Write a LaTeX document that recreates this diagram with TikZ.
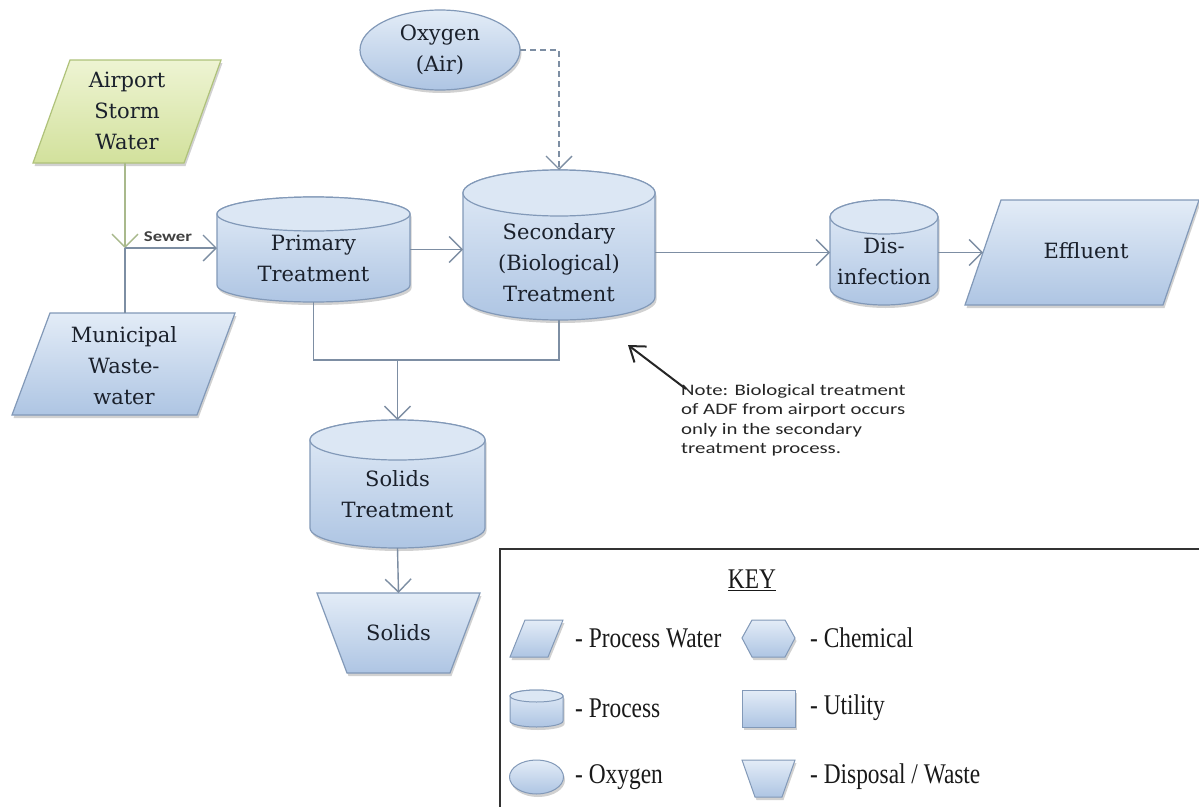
\documentclass[tikz,border=0pt]{standalone}
\usepackage{fontspec}
\setmainfont{DejaVu Serif}
\newfontfamily\keyfont{Liberation Serif}
\newfontfamily\notefont{Carlito}
\usetikzlibrary{arrows.meta,calc}

\definecolor{edge}{HTML}{8299B8}
\definecolor{ftop}{HTML}{E3ECF7}
\definecolor{fbot}{HTML}{AEC5E3}
\definecolor{capc}{HTML}{DCE7F4}
\definecolor{gtop}{HTML}{EEF4D3}
\definecolor{gbot}{HTML}{D2E19C}
\definecolor{gedge}{HTML}{AFC27A}
\definecolor{conn}{HTML}{7D8EA3}
\definecolor{gconn}{HTML}{A9B98C}
\definecolor{txt}{HTML}{1A202B}

\newcommand{\cylshape}[3]{%
  \path[shapefill] ($(#1.north west)+(0pt,-#3)$) -- ($(#1.south west)+(0pt,#3)$)
    arc[start angle=180,end angle=360,x radius=#2,y radius=#3]
    -- ($(#1.north east)+(0pt,-#3)$)
    arc[start angle=0,end angle=180,x radius=#2,y radius=#3] -- cycle;
  \path[capfill] ($(#1.north)+(0pt,-#3)$) ellipse[x radius=#2,y radius=#3];}
\newcommand{\parashape}[3]{%
  \path[#3] (#1.south west) -- ($(#1.north west)+(#2,0pt)$) -- (#1.north east)
    -- ($(#1.south east)+(-#2,0pt)$) -- cycle;}

\begin{document}
\begin{tikzpicture}[x=1pt,y=-1pt,
  holder/.style={rectangle,inner sep=0pt,outer sep=0pt},
  lbl/.style={font=\fontsize{21}{31}\selectfont,text=txt,align=center,inner sep=0pt},
  shadowed/.style={preaction={fill=black,opacity=0.18,transform canvas={shift={(1.5pt,-3pt)}}}},
  shapefill/.style={shadowed,draw=edge,line width=1.2pt,top color=ftop,bottom color=fbot},
  capfill/.style={draw=edge,line width=1.2pt,fill=capc},
  greenfill/.style={shadowed,draw=gedge,line width=1.2pt,top color=gtop,bottom color=gbot},
  line/.style={draw=conn,line width=1.4pt},
  barb/.style={-{Straight Barb[length=13pt,width=26pt]}},
  flow/.style={line,barb},
  gflow/.style={draw=gconn,line width=1.4pt,barb},
  dashflow/.style={draw=conn,line width=1.4pt,dash pattern=on 6pt off 4pt,barb},
  notearrow/.style={draw=black!85,line width=2pt,-{Straight Barb[length=14pt,width=20pt]}},
  notetxt/.style={font=\notefont\fontsize{16}{19.5}\selectfont,text=black!85,align=left,inner sep=0pt},
  sewerlbl/.style={font=\notefont\bfseries\fontsize{15}{16}\selectfont,text=black!75,inner sep=0pt},
  keytxt/.style={font=\keyfont\fontsize{28.5}{30}\selectfont,text=black!90,inner sep=0pt},
  keyframe/.style={draw=black!80,line width=2.2pt},
  iconfill/.style={draw=edge,line width=1pt,top color=ftop,bottom color=fbot,shadowed}
]
\fill[white] (0,0) rectangle (1199,806);
\useasboundingbox (0,0) rectangle (1199,806);

% ---------- shapes ----------
% Oxygen
\node[holder,minimum width=160pt,minimum height=80pt] (oxy) at (440,50) {};
\path[shapefill] (oxy.center) ellipse[x radius=80pt,y radius=40pt];
\node[lbl] (oxyt) at (oxy.center) {Oxygen\\(Air)};

% Airport storm water
\node[holder,minimum width=188pt,minimum height=103pt] (air) at (127,111.5) {};
\parashape{air}{37pt}{greenfill}
\node[lbl] (airt) at (127,111) {Airport\\Storm\\Water};

% Municipal wastewater
\node[holder,minimum width=223pt,minimum height=102pt] (mun) at (123.5,364) {};
\parashape{mun}{38pt}{shapefill}
\node[lbl] (munt) at (124,366) {Municipal\\Waste-\\water};

% Primary
\node[holder,minimum width=193pt,minimum height=105pt] (prim) at (313.5,249.5) {};
\cylshape{prim}{96.5pt}{17pt}
\node[lbl] (primt) at ($(prim.center)+(0pt,-9pt)$) {Primary\\Treatment};

% Secondary
\node[holder,minimum width=192pt,minimum height=150pt] (sec) at (559,245) {};
\cylshape{sec}{96pt}{23pt}
\node[lbl] (sect) at ($(sec.center)+(0pt,-18pt)$) {Secondary\\(Biological)\\Treatment};

% Disinfection
\node[holder,minimum width=108pt,minimum height=105pt] (dis) at (884,252.5) {};
\cylshape{dis}{54pt}{17pt}
\node[lbl] (dist) at ($(dis.center)+(0pt,-9pt)$) {Dis-\\infection};

% Effluent
\node[holder,minimum width=234pt,minimum height=105pt] (eff) at (1082,252.5) {};
\parashape{eff}{36pt}{shapefill}
\node[lbl] (efft) at (1086,251) {Effluent};

% Solids treatment
\node[holder,minimum width=175pt,minimum height=128pt] (st) at (397.5,484) {};
\cylshape{st}{87.5pt}{20pt}
\node[lbl] (stt) at ($(st.center)+(0pt,-10pt)$) {Solids\\Treatment};

% Solids
\node[holder,minimum width=163pt,minimum height=80pt] (sol) at (398.5,633) {};
\path[shapefill] (sol.north west) -- (sol.north east) -- ($(sol.south east)+(-30pt,0pt)$)
  -- ($(sol.south west)+(30pt,0pt)$) -- cycle;
\node[lbl] (solt) at (sol.center) {Solids};

% ---------- connectors ----------
\coordinate (J) at (125,248);
\draw[gflow] (air.south -| J) -- (J);
\draw[line] (J) -- (mun.north -| J);
\draw[flow] (J) -- (J -| prim.west);
\node[sewerlbl] (sewer) at (168,237) {\scalebox{1.25}[1]{Sewer}};

\draw[flow] (prim.east) -- (prim.east -| sec.west);
\draw[flow] (sec.east |- dis.west) -- (dis.west);
\draw[flow] (dis.east) -- ($(eff.west)+(18pt,0pt)$);
\draw[dashflow] (oxy.east) -| (sec.north);

\coordinate (M) at (397.5,360);
\draw[line] (prim.south) |- (M -| sec.south) -- (sec.south);
\draw[flow] (M) -- (st.north);
\draw[flow] (st.south) -- (sol.north);

% ---------- note ----------
\node[notetxt,anchor=north west] (note) at (681,384)
  {\scalebox{1.3}[1]{Note: Biological treatment}\\
   \scalebox{1.3}[1]{of ADF from airport occurs}\\
   \scalebox{1.3}[1]{only in the secondary}\\
   \scalebox{1.3}[1]{treatment process.}};
\coordinate (np) at (628,345);
\draw[notearrow] ($(note.north west)+(5pt,-5pt)$) -- (np);

% ---------- key ----------
\draw[keyframe] (500,549) rectangle (1215,830);
\node[keytxt] (keyh) at (752,580) {\scalebox{0.82}[1]{\underline{KEY}}};

\path[iconfill] (510,657) -- (525,620) -- (563,620) -- (548,657) -- cycle;
\node[keytxt,anchor=west] (k1) at (575,638) {\scalebox{0.82}[1]{- Process Water}};
\path[iconfill] (742,638) -- (752,620) -- (785,620) -- (795,638) -- (785,657) -- (752,657) -- cycle;
\node[keytxt,anchor=west] (k2) at (810,638) {\scalebox{0.82}[1]{- Chemical}};

\path[iconfill] (510,696) -- (510,721) arc[start angle=180,end angle=360,x radius=26.5pt,y radius=6pt]
  -- (563,696) arc[start angle=0,end angle=180,x radius=26.5pt,y radius=6pt] -- cycle;
\path[draw=edge,line width=1pt,fill=capc] (536.5,696) ellipse[x radius=26.5pt,y radius=6pt];
\node[keytxt,anchor=west] (k3) at (575,708) {\scalebox{0.82}[1]{- Process}};
\path[iconfill] (742,690) rectangle (795,727);
\node[keytxt,anchor=west] (k4) at (810,708) {\scalebox{0.82}[1]{- Utility}};

\path[iconfill] (536.5,777) ellipse[x radius=27pt,y radius=17pt];
\node[keytxt,anchor=west] (k5) at (575,777) {\scalebox{0.82}[1]{- Oxygen}};
\path[iconfill] (742,760) -- (795,760) -- (782,797) -- (755,797) -- cycle;
\node[keytxt,anchor=west] (k6) at (810,777) {\scalebox{0.82}[1]{- Disposal / Waste}};
\end{tikzpicture}
\end{document}
